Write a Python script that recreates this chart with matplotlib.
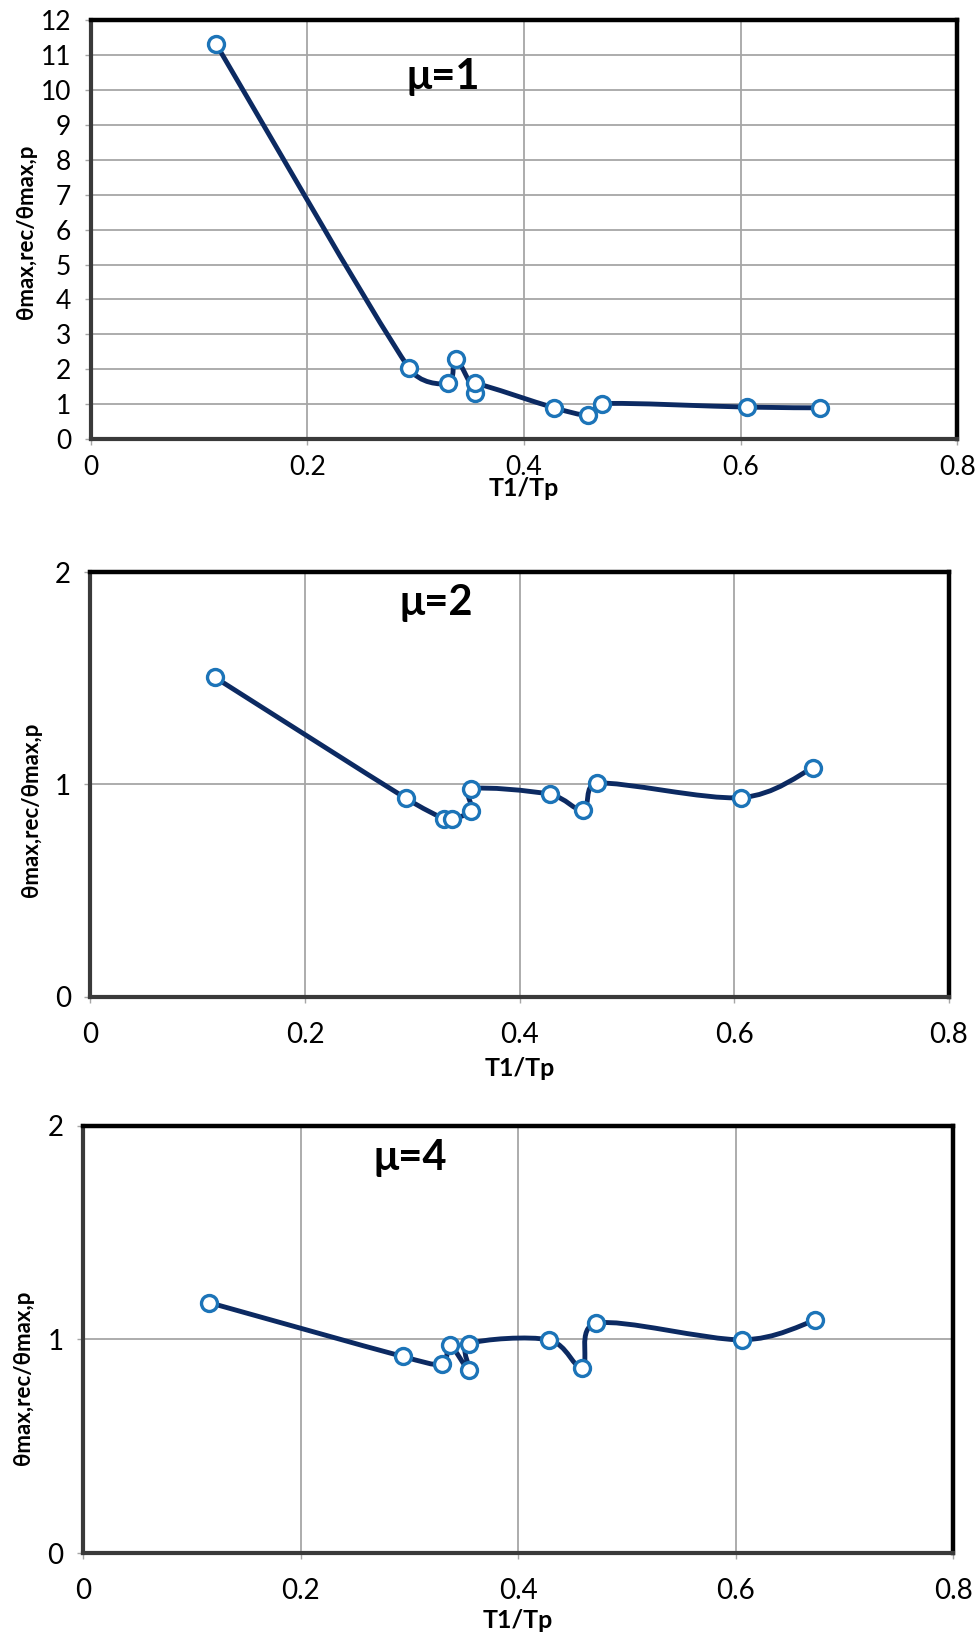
import numpy as np
import matplotlib
matplotlib.use("Agg")
import matplotlib.pyplot as plt
from matplotlib.path import Path
from matplotlib.patches import PathPatch

plt.rcParams['font.family'] = ['Lato', 'DejaVu Sans']

# T1/Tp values (same for all three ductility levels)
t_ratio = [0.116, 0.294, 0.330, 0.337, 0.355, 0.355, 0.428, 0.459, 0.472, 0.606, 0.673]
# theta_max,rec / theta_max,p
mu1 = [11.30, 2.03, 1.60, 2.30, 1.32, 1.60, 0.90, 0.70, 1.02, 0.92, 0.90]
mu2 = [1.505, 0.935, 0.837, 0.837, 0.877, 0.979, 0.954, 0.880, 1.006, 0.938, 1.077]
mu4 = [1.172, 0.920, 0.884, 0.974, 0.857, 0.979, 0.998, 0.868, 1.076, 0.998, 1.089]

x_ticks = [0, 0.2, 0.4, 0.6, 0.8]
x_ticklabels = ["0", "0.2", "0.4", "0.6", "0.8"]
titles = ["μ=1", "μ=2", "μ=4"]

line_col = "#0c2a62"
mark_col = "#1c74b8"
grid_col = "#a6a6a6"


def smooth_path(ax, x, y):
    # excel style smoothed line, built in pixel space so the tangent
    # can be capped against the segment length (no overshoot)
    p = ax.transData.transform(np.column_stack([x, y]).astype(float))
    n = len(p)
    verts = [p[0]]
    codes = [Path.MOVETO]

    def cap(v, seg):
        L = np.hypot(*v)
        lim = 0.45 * seg
        return v * (lim / L) if L > lim else v

    for i in range(n - 1):
        p0 = p[i - 1] if i > 0 else p[i]
        p3 = p[i + 2] if i + 2 < n else p[i + 1]
        seg = np.hypot(*(p[i + 1] - p[i]))
        c1 = p[i] + cap((p[i + 1] - p0) / 6.0, seg)
        c2 = p[i + 1] - cap((p3 - p[i]) / 6.0, seg)
        verts += [c1, c2, p[i + 1]]
        codes += [Path.CURVE4] * 3
    verts = ax.transData.inverted().transform(np.array(verts))
    return Path(verts, codes)


fig = plt.figure(figsize=(9.77, 16.36), dpi=100)

# [left, bottom, width, height], ymax, title pos, ylabel x/y, xlabel y, x tick pad, tick size
panels = [
    ([0.0928, 0.7315, 0.887, 0.2563], 12, (0.407, 0.864), (-0.0735, 0.494), -0.117, 7, 19),
    ([0.0924, 0.3908, 0.8789, 0.2594], 2, (0.403, 0.927), (-0.069, 0.44), -0.170, 14, 20),
    ([0.0849, 0.0506, 0.8909, 0.2614], 2, (0.376, 0.923), (-0.0688, 0.41), -0.158, 14, 20),
]

for (rect, ymax, tpos, ylpos, xly, xpad, fs), yv, title in zip(panels, [mu1, mu2, mu4], titles):
    ax = fig.add_axes(rect)
    ax.set_xlim(0, 0.8)
    ax.set_ylim(0, ymax)
    ax.set_xticks(x_ticks)
    ax.set_xticklabels(x_ticklabels)
    ax.set_yticks(np.arange(0, ymax + 1, 1))
    ax.grid(True, color=grid_col, lw=1.3)
    ax.set_axisbelow(True)

    ax.add_patch(PathPatch(smooth_path(ax, t_ratio, yv), fc="none", ec=line_col,
                           lw=3.5, transform=ax.transData, zorder=3, capstyle="round"))
    ax.plot(t_ratio, yv, ls="none", marker="o", ms=11.5, mfc="white",
            mec=mark_col, mew=2.4, zorder=4)

    for side in ["top", "right"]:
        ax.spines[side].set_color("black")
        ax.spines[side].set_linewidth(3.2)
    for side in ["left", "bottom"]:
        ax.spines[side].set_color("#3a3a3a")
        ax.spines[side].set_linewidth(3.0)

    ax.tick_params(axis="x", direction="out", length=4, width=1, color=grid_col,
                   pad=xpad, labelsize=fs)
    ax.tick_params(axis="y", direction="out", length=4, width=1, color=grid_col,
                   pad=10, labelsize=fs)

    ax.text(tpos[0], tpos[1], title, transform=ax.transAxes, fontsize=30,
            fontweight="bold", ha="center", va="center")
    ax.set_xlabel("T1/Tp", fontsize=18, fontweight="bold", va="center")
    ax.xaxis.set_label_coords(0.5, xly)
    ax.set_ylabel("θmax,rec/θmax,p", fontsize=16, fontweight="bold", va="center")
    ax.yaxis.set_label_coords(ylpos[0], ylpos[1])

fig.savefig("out.png", dpi=100, facecolor="white")
